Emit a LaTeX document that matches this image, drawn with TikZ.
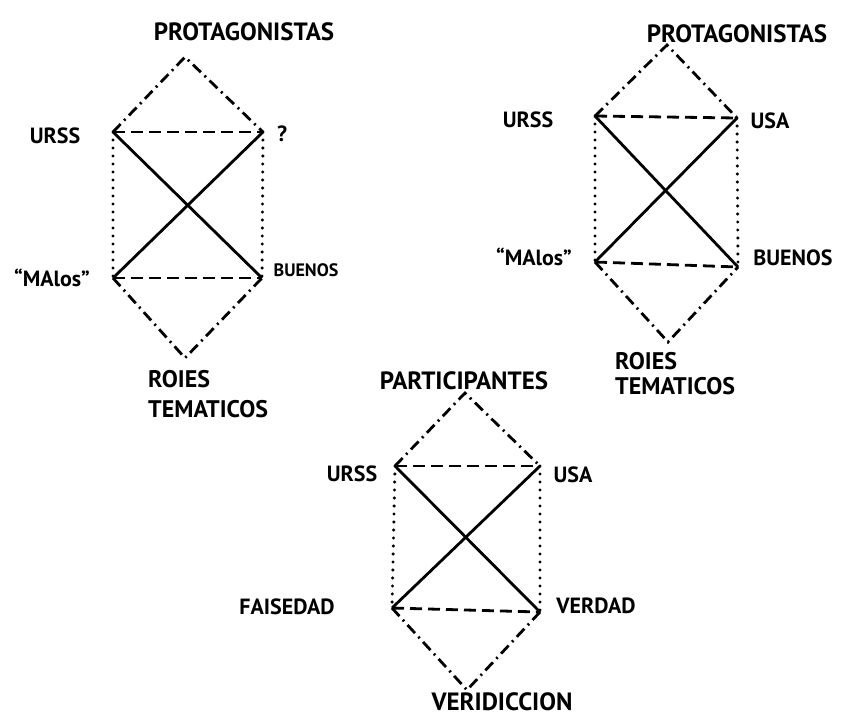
\documentclass[tikz,border=0pt]{standalone}
\usepackage{fontspec}
\setmainfont{PT Sans}
\usepackage{tikz}

\begin{document}
\begin{tikzpicture}[x=1pt, y=-1pt,
    lbl/.style={inner sep=0pt, font=\fontsize{22}{22}\selectfont\bfseries},
    biglbl/.style={inner sep=0pt, font=\fontsize{25}{25}\selectfont\bfseries},
    smalllbl/.style={inner sep=0pt, font=\fontsize{18}{18}\selectfont\bfseries},
    twolbl/.style={inner sep=0pt, anchor=north west, align=left, font=\fontsize{24}{#1}\selectfont\bfseries},
    edge/.style={line width=2.8pt, dash pattern=on 11pt off 5pt on 2pt off 5pt},
    bar/.style={line width=2.8pt, dash pattern=on 12pt off 6pt},
    side/.style={line width=3.4pt, line cap=round, dash pattern=on 0pt off 8pt},
    cross/.style={line width=2.8pt}]
    \useasboundingbox (0,0) rectangle (845,716);

    % left square
    \coordinate (a1) at (185,57);
    \coordinate (a2) at (113,132);
    \coordinate (a3) at (263,132);
    \coordinate (a4) at (113,278);
    \coordinate (a5) at (262,278);
    \coordinate (a6) at (185,358);
    \node[biglbl] (atop) at (244,32) {PROTAGONISTAS};
    \node[lbl] (aurss) at (55,136) {URSS};
    \node[lbl] (aq) at (282,134) {?};
    \node[lbl] (amal) at (52,278) {``MAlos''};
    \node[smalllbl] (abue) at (306,270) {BUENOS};
    \node[twolbl=30] (arol) at (148,370) {ROIES\\TEMATICOS};
    \draw[edge] (a2) -- (a1) -- (a3);
    \draw[edge] (a4) -- (a6) -- (a5);
    \draw[bar] (a2) -- (a3);
    \draw[bar] (a4) -- (a5);
    \draw[side] (a2) -- (a4);
    \draw[side] (a3) -- (a5);
    \draw[cross] (a2) -- (a5);
    \draw[cross] (a4) -- (a3);

    % right square
    \coordinate (b1) at (667,45);
    \coordinate (b2) at (595,116);
    \coordinate (b3) at (737,118);
    \coordinate (b4) at (595,262);
    \coordinate (b5) at (738,267);
    \coordinate (b6) at (668,342);
    \node[biglbl] (btop) at (737,34) {PROTAGONISTAS};
    \node[lbl] (burss) at (528,120) {URSS};
    \node[lbl] (busa) at (770,121) {USA};
    \node[lbl] (bmal) at (534,257) {``MAlos''};
    \node[lbl] (bbue) at (793,258) {BUENOS};
    \node[twolbl=25] (brol) at (615,352) {ROIES\\TEMATICOS};
    \draw[edge] (b2) -- (b1) -- (b3);
    \draw[edge] (b4) -- (b6) -- (b5);
    \draw[bar] (b2) -- (b3);
    \draw[bar] (b4) -- (b5);
    \draw[side] (b2) -- (b4);
    \draw[side] (b3) -- (b5);
    \draw[cross] (b2) -- (b5);
    \draw[cross] (b4) -- (b3);

    % bottom square
    \coordinate (c1) at (465,393);
    \coordinate (c2) at (395,466);
    \coordinate (c3) at (540,466);
    \coordinate (c4) at (392,608);
    \coordinate (c5) at (540,612);
    \coordinate (c6) at (467,690);
    \node[biglbl] (ctop) at (464,381) {PARTICIPANTES};
    \node[lbl] (curss) at (352,474) {URSS};
    \node[lbl] (cusa) at (573,475) {USA};
    \node[lbl] (cfal) at (287,607) {FAISEDAD};
    \node[lbl] (cver) at (596,606) {VERDAD};
    \node[biglbl] (cbot) at (502,702) {VERIDICCION};
    \draw[edge] (c2) -- (c1) -- (c3);
    \draw[edge] (c4) -- (c6) -- (c5);
    \draw[bar] (c2) -- (c3);
    \draw[bar] (c4) -- (c5);
    \draw[side] (c2) -- (c4);
    \draw[side] (c3) -- (c5);
    \draw[cross] (c2) -- (c5);
    \draw[cross] (c4) -- (c3);
\end{tikzpicture}
\end{document}
